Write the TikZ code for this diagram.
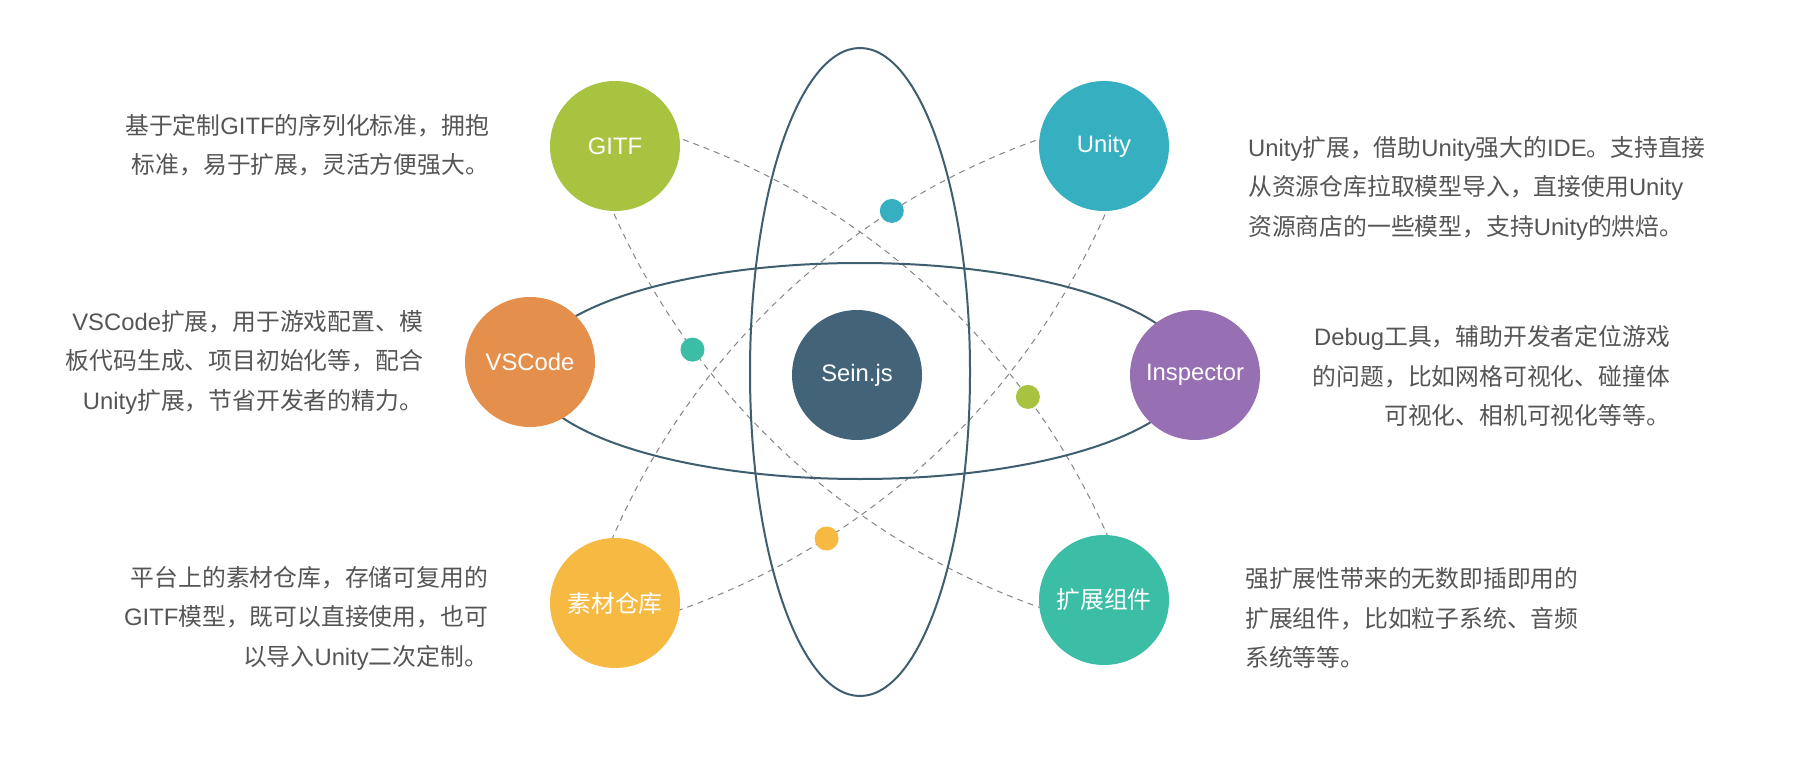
\documentclass[tikz,border=0pt]{standalone}
\usepackage{fontspec}
\setmainfont{Noto Sans CJK SC}
\newfontfamily\latf{Liberation Sans}
\newcommand\lw[1]{{\latf #1}}
\definecolor{cgitf}{HTML}{A7C33F}
\definecolor{cunity}{HTML}{36AFC0}
\definecolor{cvscode}{HTML}{E58F4D}
\definecolor{cinsp}{HTML}{976FB3}
\definecolor{csucai}{HTML}{F6B942}
\definecolor{ckuozhan}{HTML}{3BBDA6}
\definecolor{csein}{HTML}{436478}
\definecolor{corbit}{HTML}{3F5E70}
\definecolor{cdash}{HTML}{858585}
\definecolor{textgray}{HTML}{555555}
\begin{document}
\begin{tikzpicture}[x=1pt,y=-1pt,
  planet/.style={circle, minimum size=130pt, inner sep=0pt, text=white,
    font=\fontsize{23.8}{28}\selectfont},
  dotn/.style={circle, minimum size=24pt, inner sep=0pt},
  orbit/.style={draw=corbit, line width=2pt},
  dashline/.style={draw=cdash, line width=1pt, dash pattern=on 6pt off 5pt},
  desc/.style={inner sep=0pt, text=textgray, font=\fontsize{23.8}{39.5}\selectfont}]
\fill[white] (0,0) rectangle (1804,762);
\useasboundingbox (0,0) rectangle (1804,762);

% lens tips
\coordinate (a1) at (577.1,110.4);
\coordinate (a2) at (1142.9,635.6);
\coordinate (b1) at (1141.5,110.9);
\coordinate (b2) at (577.5,638.1);
\draw[dashline] (a1) to[bend left=31.8, looseness=0.92] (a2);
\draw[dashline] (a1) to[bend right=31.8, looseness=0.92] (a2);
\draw[dashline] (b1) to[bend left=31.8, looseness=0.92] (b2);
\draw[dashline] (b1) to[bend right=31.8, looseness=0.92] (b2);

% orbits
\draw[orbit] (860,372) ellipse [x radius=110pt, y radius=324pt];
\draw[orbit] (860,371) ellipse [x radius=330pt, y radius=108pt];

% planets
\node[planet, fill=csein] (sein) at (857,375) {\lw{Sein.js}};
\node[planet, fill=cgitf] (gitf) at (615,146) {\lw{GITF}};
\node[planet, fill=cunity] (unity) at (1104,146) {\lw{Unity}};
\node[planet, fill=cvscode] (vscode) at (530,362) {\lw{VSCode}};
\node[planet, fill=cinsp] (insp) at (1195,375) {\lw{Inspector}};
\node[planet, fill=csucai] (sucai) at (615,603) {素材仓库};
\node[planet, fill=ckuozhan] (kuozhan) at (1104,600) {扩展组件};

% dots
\node[dotn, fill=cunity] (d1) at (891.8,210.9) {};
\node[dotn, fill=ckuozhan] (d2) at (692.5,349.6) {};
\node[dotn, fill=cgitf] (d3) at (1027.9,396.9) {};
\node[dotn, fill=csucai] (d4) at (826.6,538.5) {};

% descriptions
\node[desc, align=right, anchor=east] (tgitf) at (489,145)
  {基于定制\lw{GITF}的序列化标准，拥抱\\标准，易于扩展，灵活方便强大。};
\node[desc, align=right, anchor=east] (tvscode) at (423,362)
  {\lw{VSCode}扩展，用于游戏配置、模\\板代码生成、项目初始化等，配合\\\lw{Unity}扩展，节省开发者的精力。};
\node[desc, align=right, anchor=east] (tsucai) at (488,618)
  {平台上的素材仓库，存储可复用的\\\lw{GITF}模型，既可以直接使用，也可\\以导入\lw{Unity}二次定制。};
\node[desc, align=left, anchor=west] (tunity) at (1248,188)
  {\lw{Unity}扩展，借助\lw{Unity}强大的\lw{IDE}。支持直接\\从资源仓库拉取模型导入，直接使用\lw{Unity}\\资源商店的一些模型，支持\lw{Unity}的烘焙。};
\node[desc, align=right, anchor=east] (tinsp) at (1670,376)
  {\lw{Debug}工具，辅助开发者定位游戏\\的问题，比如网格可视化、碰撞体\\可视化、相机可视化等等。};
\node[desc, align=left, anchor=west] (tkuozhan) at (1245,618)
  {强扩展性带来的无数即插即用的\\扩展组件，比如粒子系统、音频\\系统等等。};
\end{tikzpicture}
\end{document}
